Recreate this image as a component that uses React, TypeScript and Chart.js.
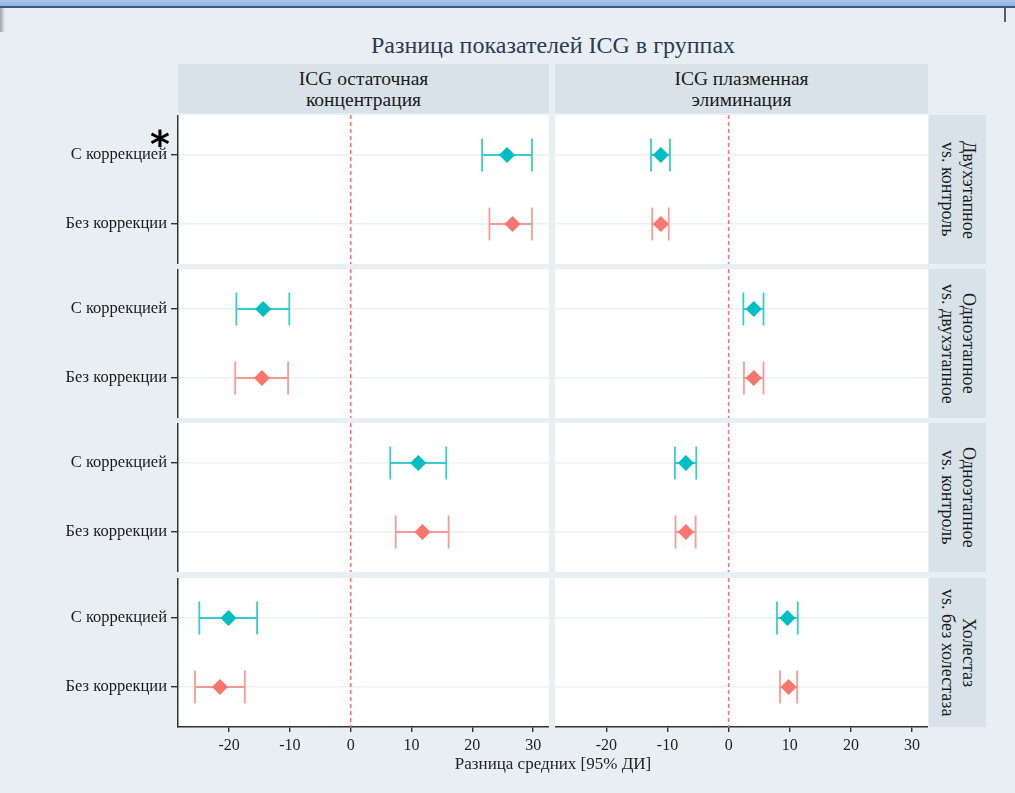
import React, { useEffect, useRef } from "react";
import { Chart, registerables } from "chart.js";

Chart.register(...registerables);

// ---------- data ----------
const chartTitle = "Разница показателей ICG в группах";
const xAxisTitle = "Разница средних [95% ДИ]";
const facets = ["ICG остаточная\nконцентрация", "ICG плазменная\nэлиминация"];
const comparisons = [
  "Двухэтапное\nvs. контроль",
  "Одноэтапное\nvs. двухэтапное",
  "Одноэтапное\nvs. контроль",
  "Холестаз\nvs. без холестаза",
];
const seriesLabels = ["С коррекцией", "Без коррекции"];
const rowPositions = [2, 1]; // С коррекцией on top, Без коррекции below
const xTicks = [-20, -10, 0, 10, 20, 30];

// facet 1: ICG остаточная концентрация
const concCorrMean = [25.7, -14.4, 11.1, -20.1];
const concCorrLow = [21.6, -18.8, 6.5, -24.9];
const concCorrHigh = [29.8, -10.1, 15.7, -15.4];
const concRawMean = [26.6, -14.6, 11.8, -21.5];
const concRawLow = [22.8, -19.0, 7.4, -25.6];
const concRawHigh = [29.8, -10.3, 16.1, -17.4];

// facet 2: ICG плазменная элиминация
const elimCorrMean = [-11.1, 4.1, -7.0, 9.6];
const elimCorrLow = [-12.7, 2.4, -8.8, 7.9];
const elimCorrHigh = [-9.6, 5.7, -5.3, 11.3];
const elimRawMean = [-11.1, 4.1, -7.0, 9.8];
const elimRawLow = [-12.5, 2.5, -8.7, 8.4];
const elimRawHigh = [-9.8, 5.7, -5.4, 11.2];

const facetData = [
  {
    mean: [concCorrMean, concRawMean],
    low: [concCorrLow, concRawLow],
    high: [concCorrHigh, concRawHigh],
  },
  {
    mean: [elimCorrMean, elimRawMean],
    low: [elimCorrLow, elimRawLow],
    high: [elimCorrHigh, elimRawHigh],
  },
];

// ---------- styles ----------
const FONT = "'Liberation Serif', 'DejaVu Serif', serif";
const BG = "#e8eff2";
const STRIP = "#d8e3e9";
const pointColors = ["#00bfc4", "#f8766d"];
const barColors = ["rgba(0,191,196,0.78)", "rgba(248,118,109,0.72)"];

const colX = [
  [178, 549],
  [555, 928],
];
const rowTop = [115, 269, 423, 578];
const rowH = 149;
const X_AXIS_H = 32;

const panelPlugin = {
  id: "panelDecor",
  beforeDraw(chart: any) {
    const { ctx, chartArea } = chart;
    ctx.save();
    ctx.fillStyle = "#ffffff";
    ctx.fillRect(chartArea.left, chartArea.top, chartArea.right - chartArea.left, chartArea.bottom - chartArea.top);
    ctx.restore();
  },
  beforeDatasetsDraw(chart: any) {
    const { ctx, chartArea, scales } = chart;
    const xs = scales.x;
    const ys = scales.y;
    // zero reference line
    ctx.save();
    ctx.strokeStyle = "#ff7373";
    ctx.lineWidth = 1.6;
    ctx.setLineDash([4, 3]);
    const x0 = xs.getPixelForValue(0);
    ctx.beginPath();
    ctx.moveTo(x0, chartArea.top);
    ctx.lineTo(x0, chartArea.bottom);
    ctx.stroke();
    ctx.restore();
    // error bars
    chart.data.datasets.forEach((ds: any) => {
      ds.data.forEach((p: any) => {
        const yPx = ys.getPixelForValue(p.y);
        const capTop = ys.getPixelForValue(p.y + 0.24);
        const capBot = ys.getPixelForValue(p.y - 0.24);
        const xl = xs.getPixelForValue(p.lo);
        const xh = xs.getPixelForValue(p.hi);
        ctx.save();
        ctx.strokeStyle = ds.barColor;
        ctx.lineWidth = 1.8;
        ctx.beginPath();
        ctx.moveTo(xl, yPx);
        ctx.lineTo(xh, yPx);
        ctx.moveTo(xl, capTop);
        ctx.lineTo(xl, capBot);
        ctx.moveTo(xh, capTop);
        ctx.lineTo(xh, capBot);
        ctx.stroke();
        ctx.restore();
      });
    });
  },
};

function Panel({ r, c }: { r: number; c: number }) {
  const ref = useRef<HTMLCanvasElement>(null);
  const isLeft = c === 0;
  const isBottom = r === comparisons.length - 1;
  const left = isLeft ? 0 : colX[1][0];
  const width = isLeft ? colX[0][1] : colX[1][1] - colX[1][0];
  const height = rowH + (isBottom ? X_AXIS_H : 0);

  useEffect(() => {
    const fd = facetData[c];
    const datasets = seriesLabels.map((label, s) => ({
      label,
      data: [{ x: fd.mean[s][r], y: rowPositions[s], lo: fd.low[s][r], hi: fd.high[s][r] }],
      pointStyle: "rectRot",
      pointRadius: 8,
      pointBorderWidth: 0,
      backgroundColor: pointColors[s],
      borderColor: pointColors[s],
      barColor: barColors[s],
    }));
    const chart = new Chart(ref.current!, {
      type: "scatter",
      data: { datasets } as any,
      plugins: [panelPlugin],
      options: {
        animation: false,
        responsive: false,
        maintainAspectRatio: false,
        layout: { padding: 0, autoPadding: false },
        plugins: { legend: { display: false }, tooltip: { enabled: false }, title: { display: false } },
        scales: {
          x: {
            type: "linear",
            min: -28.4,
            max: 32.6,
            display: isBottom,
            afterBuildTicks: (scale: any) => {
              scale.ticks = xTicks.map((v) => ({ value: v }));
            },
            afterFit: (scale: any) => {
              scale.height = isBottom ? X_AXIS_H : 0;
              scale.paddingLeft = 0;
              scale.paddingRight = 0;
            },
            grid: { drawOnChartArea: false, drawTicks: true, tickLength: 5, tickColor: "#333", lineWidth: 1.4 },
            border: { display: true, color: "#333", width: 1.5 },
            ticks: { font: { family: FONT, size: 16 }, color: "#222", padding: 4, callback: (v: any) => String(v) },
          },
          y: {
            type: "linear",
            min: 0.42,
            max: 2.58,
            afterBuildTicks: (scale: any) => {
              scale.ticks = rowPositions.map((v) => ({ value: v }));
            },
            afterFit: (scale: any) => {
              scale.width = isLeft ? colX[0][0] : 0;
              scale.paddingTop = 0;
              scale.paddingBottom = 0;
            },
            grid: {
              color: "#ebf1f4",
              lineWidth: 1.4,
              drawTicks: isLeft,
              tickLength: 7,
              tickColor: "#333",
            },
            border: { display: isLeft, color: "#333", width: 1.5 },
            ticks: {
              display: isLeft,
              font: { family: FONT, size: 16.5 },
              color: "#1a1a1a",
              padding: 4,
              callback: (v: any) => seriesLabels[rowPositions.indexOf(Number(v))] ?? "",
            },
          },
        },
      } as any,
    });
    return () => chart.destroy();
  }, []);

  return (
    <canvas
      ref={ref}
      width={width}
      height={height}
      style={{ position: "absolute", left, top: rowTop[r], width, height }}
    />
  );
}

export default function App() {
  const panels: any[] = [];
  comparisons.forEach((_, r) => {
    facets.forEach((__, c) => {
      panels.push(<Panel key={`${r}-${c}`} r={r} c={c} />);
    });
  });
  return (
    <div
      style={{
        position: "fixed",
        left: 0,
        top: 0,
        width: 1015,
        height: 793,
        background: BG,
        overflow: "hidden",
        fontFamily: FONT,
      }}
    >
      {/* window chrome */}
      <div style={{ position: "absolute", left: 0, top: 0, width: 1015, height: 6, background: "linear-gradient(#a9c6ea, #8db1df)" }} />
      <div style={{ position: "absolute", left: 0, top: 6, width: 1015, height: 2, background: "#3b5a86" }} />
      <div style={{ position: "absolute", left: 0, top: 8, width: 5, height: 24, background: "linear-gradient(90deg, #9aa3aa, #e8eff2)" }} />
      <div style={{ position: "absolute", left: 1004, top: 8, width: 2, height: 14, background: "#55606a" }} />

      {/* title */}
      <div
        style={{
          position: "absolute",
          left: 178,
          width: 750,
          top: 30,
          textAlign: "center",
          fontSize: 24,
          color: "#2b3a55",
          lineHeight: "30px",
        }}
      >
        {chartTitle}
      </div>

      {/* facet strips */}
      {facets.map((f, c) => (
        <div
          key={f}
          style={{
            position: "absolute",
            left: colX[c][0],
            width: colX[c][1] - colX[c][0],
            top: 64,
            height: 49,
            background: STRIP,
            display: "flex",
            alignItems: "center",
            justifyContent: "center",
            textAlign: "center",
            whiteSpace: "pre-line",
            fontSize: 19.5,
            lineHeight: "21px",
            color: "#1a1a1a",
          }}
        >
          {f}
        </div>
      ))}

      {/* row strips */}
      {comparisons.map((cmp, r) => (
        <div
          key={cmp}
          style={{
            position: "absolute",
            left: 929,
            width: 57,
            top: rowTop[r],
            height: rowH,
            background: STRIP,
            display: "flex",
            alignItems: "center",
            justifyContent: "center",
          }}
        >
          <div
            style={{
              writingMode: "vertical-rl",
              whiteSpace: "pre-line",
              textAlign: "center",
              fontSize: 18,
              lineHeight: "21px",
              color: "#1a1a1a",
            }}
          >
            {cmp}
          </div>
        </div>
      ))}

      {panels}

      {/* x axis title */}
      <div
        style={{
          position: "absolute",
          left: 178,
          width: 750,
          top: 754,
          textAlign: "center",
          fontSize: 17,
          color: "#222",
        }}
      >
        {xAxisTitle}
      </div>

      {/* significance mark */}
      <div
        style={{
          position: "absolute",
          left: 150,
          top: 125,
          fontSize: 38,
          fontWeight: "bold",
          lineHeight: "38px",
          color: "#000",
          fontFamily: "'DejaVu Sans', sans-serif",
        }}
      >
        *
      </div>
    </div>
  );
}
